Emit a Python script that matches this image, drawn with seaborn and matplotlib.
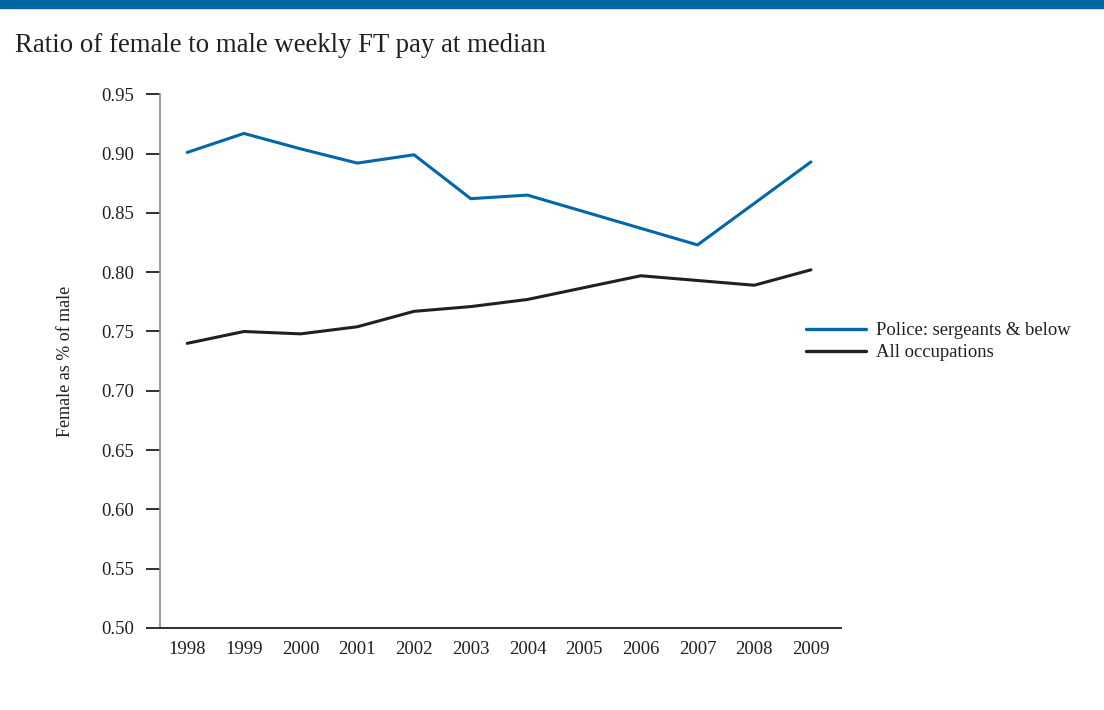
import matplotlib
matplotlib.use("Agg")
import matplotlib.pyplot as plt
import matplotlib.patches as mpatches
import numpy as np
import pandas as pd
import seaborn as sns

years = [1998, 1999, 2000, 2001, 2002, 2003, 2004, 2005, 2006, 2007, 2008, 2009]
police = [0.901, 0.917, 0.904, 0.892, 0.899, 0.862, 0.865, 0.851, 0.837, 0.823, 0.858, 0.893]
all_occ = [0.740, 0.750, 0.748, 0.754, 0.767, 0.771, 0.777, 0.787, 0.797, 0.793, 0.789, 0.802]
series_names = ["Police: sergeants & below", "All occupations"]
series_colors = ["#0068A8", "#231F20"]
y_ticks = [0.50, 0.55, 0.60, 0.65, 0.70, 0.75, 0.80, 0.85, 0.90, 0.95]

sns.set_style("white")
plt.rcParams["font.family"] = ["Liberation Serif", "DejaVu Serif"]
plt.rcParams["text.color"] = "#231F20"

df = pd.DataFrame({
    "year": years * 2,
    "ratio": police + all_occ,
    "series": [series_names[0]] * len(years) + [series_names[1]] * len(years),
})

fig = plt.figure(figsize=(11.04, 7.10), dpi=100)
ax = fig.add_axes([160 / 1104, 1 - 628 / 710, 681 / 1104, (628 - 94.3) / 710])

sns.lineplot(data=df, x="year", y="ratio", hue="series", hue_order=series_names,
             palette=series_colors, linewidth=2.2, ax=ax, legend=False)

ax.set_xlim(1997.52, 2009.53)
ax.set_ylim(0.50, 0.95)
ax.set_xticks(years)
ax.set_xticklabels([str(y) for y in years])
ax.set_yticks(y_ticks)
ax.set_yticklabels([f"{v:.2f}" for v in y_ticks])
ax.tick_params(axis="x", bottom=False, length=0, pad=9, labelsize=13.5,
               labelcolor="#231F20")
ax.tick_params(axis="y", left=True, length=10, width=1.3, color="#231F20", pad=8.5,
               labelsize=13.5, labelcolor="#231F20", direction="out")
ax.set_xlabel("")
ax.set_ylabel("Female as % of male", fontsize=13, labelpad=20, color="#231F20")

for side in ["top", "right"]:
    ax.spines[side].set_visible(False)
ax.spines["left"].set_color("#8C8C8C")
ax.spines["left"].set_linewidth(1.2)
ax.spines["bottom"].set_color("#231F20")
ax.spines["bottom"].set_linewidth(1.3)

handles = [plt.Line2D([], [], color=c, linewidth=2.4) for c in series_colors]
fig.legend(handles, series_names, loc="upper left",
           bbox_to_anchor=(806 / 1104, 1 - 322 / 710), frameon=False,
           fontsize=13.4, handlelength=3.23, handletextpad=0.54, labelspacing=0.27,
           borderaxespad=0, borderpad=0)

fig.text(15 / 1104, 1 - 46 / 710, "Ratio of female to male weekly FT pay at median",
         fontsize=19.3, va="center", ha="left", color="#231F20")

fig.patches.append(mpatches.Rectangle((0, 1 - 8 / 710), 1, 8 / 710,
                                      transform=fig.transFigure, color="#0066A6",
                                      zorder=5))

fig.savefig("out.png", dpi=100, facecolor="white")
